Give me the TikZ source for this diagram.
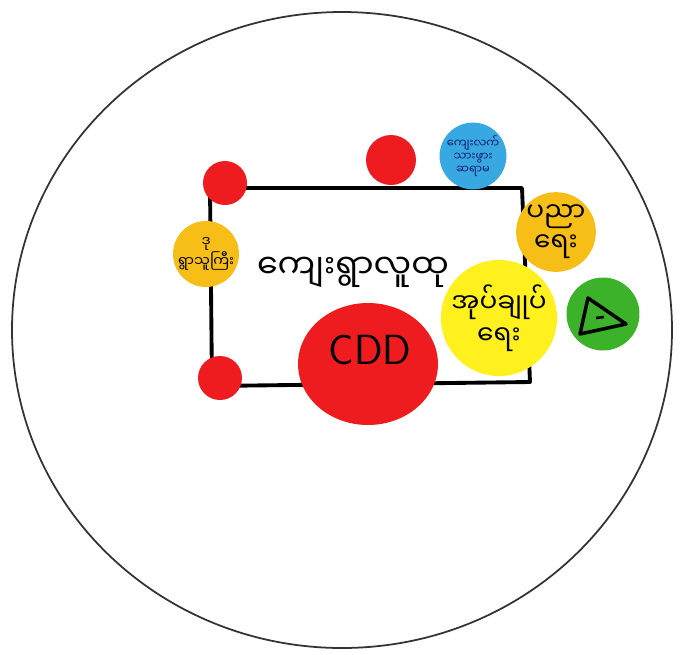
\documentclass[tikz,border=0pt]{standalone}
\usepackage{fontspec}
\newfontfamily\mya[Script=Myanmar]{Noto Sans Myanmar UI}
\usetikzlibrary{shapes.geometric}
\definecolor{dotred}{RGB}{238,28,30}
\definecolor{dotorange}{RGB}{246,190,22}
\definecolor{dotblue}{RGB}{56,168,226}
\definecolor{dotyellow}{RGB}{255,240,30}
\definecolor{dotgreen}{RGB}{60,178,42}
\definecolor{inkblue}{RGB}{20,30,110}
\tikzset{
  dot/.style={circle,inner sep=0pt,align=center,font=\mya},
  frame/.style={line width=2.2pt,line join=round},
}
\begin{document}
\begin{tikzpicture}[x=0.02cm,y=-0.02cm]
\useasboundingbox (0,0) rectangle (681,654);
\draw[line width=1pt,black!80] (342,330) ellipse [x radius=330,y radius=318];
\draw[frame] (210,188) -- (522,188) -- (530,382) -- (212,386) -- cycle;
\node[dot,fill=dotred,minimum size=0.88cm] (hall) at (225,183) {};
\node[dot,fill=dotorange,minimum size=1.32cm,font=\mya\fontsize{8}{9}\selectfont] (head) at (206,254) {ဒု\\ရွာသူကြီး};
\node[dot,fill=dotred,minimum size=0.88cm] (shop) at (220,378) {};
\node[dot,fill=dotred,minimum size=1.0cm] (monk) at (391,160) {};
\node[dot,fill=dotblue,minimum size=1.28cm,text=inkblue,font=\mya\fontsize{6.5}{7.5}\selectfont] (midwife) at (473,156) {ကျေးလက်\\သားဖွား\\ဆရာမ};
\node[dot,fill=dotorange,minimum size=1.42cm,font=\mya\fontsize{15}{17}\selectfont] (edu) at (556,232) {ပညာ\\ရေး};
\node[dot,fill=dotyellow,minimum size=2.32cm,font=\mya\fontsize{15}{18}\selectfont] (admin) at (499,318) {အုပ်ချုပ်\\ရေး};
\node[dot,fill=dotgreen,minimum size=1.46cm] (tri) at (603,314) {};
\node[ellipse,fill=dotred,minimum width=2.8cm,minimum height=2.44cm,inner sep=0pt] (cdd) at (368,364) {};
\node[font=\sffamily\fontsize{24}{26}\selectfont] at (370,350) {CDD};
\node[font=\mya\fontsize{19}{22}\selectfont] (village) at (353,272) {ကျေးရွာလူထု};
\draw[line width=2pt,line join=round] (588,298) -- (580,334) -- (626,324) -- cycle;
\draw[line width=1.5pt] (596,318) -- (604,317);
\end{tikzpicture}
\end{document}
